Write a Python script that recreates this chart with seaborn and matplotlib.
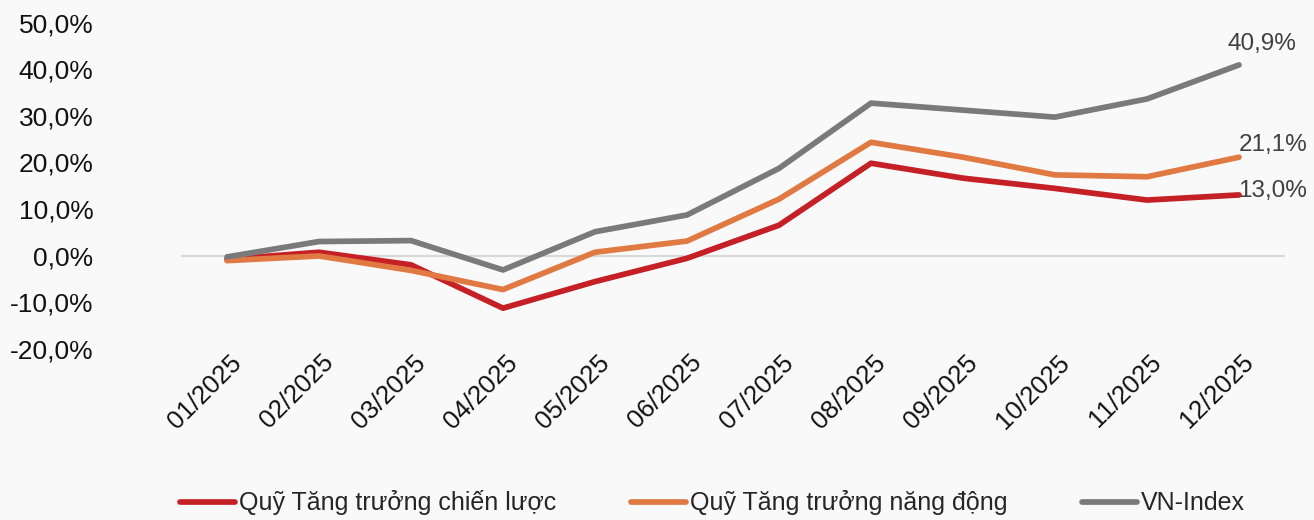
import seaborn as sns
import matplotlib.pyplot as plt
import matplotlib.transforms as mtransforms
from matplotlib.lines import Line2D
import pandas as pd

months = ["01/2025", "02/2025", "03/2025", "04/2025", "05/2025", "06/2025",
          "07/2025", "08/2025", "09/2025", "10/2025", "11/2025", "12/2025"]
chien_luoc = [-0.8, 0.7, -2.0, -11.3, -5.6, -0.6, 6.5, 19.8, 16.6, 14.4, 11.9, 13.0]
nang_dong = [-1.1, -0.1, -3.2, -7.3, 0.7, 3.1, 12.1, 24.3, 21.1, 17.3, 16.9, 21.1]
vn_index = [-0.3, 3.0, 3.2, -3.1, 5.1, 8.7, 18.7, 32.7, 31.2, 29.7, 33.6, 40.9]
series_names = ["Quỹ Tăng trưởng chiến lược", "Quỹ Tăng trưởng năng động", "VN-Index"]
colors = ["#C42026", "#E07A42", "#7A7A7A"]

df = pd.DataFrame({
    "month": months * 3,
    "value": chien_luoc + nang_dong + vn_index,
    "series": [n for n in series_names for _ in months],
})

sns.set_theme(style="white")
plt.rcParams["font.family"] = ["Liberation Sans", "DejaVu Sans"]
bg = "#F9F9F9"

fig = plt.figure(figsize=(13.14, 5.2), dpi=100, facecolor=bg)
ax = fig.add_axes([181 / 1314, 0.3294, 1104 / 1314, 0.6273], facecolor=bg)

ax.axhline(0, color="#D9D9D9", lw=1.5, zorder=1)
sns.lineplot(data=df, x="month", y="value", hue="series", palette=colors,
             hue_order=series_names, sort=False, lw=4.1, legend=False, ax=ax,
             solid_capstyle="round", zorder=3)

ax.set_xlim(-0.5, 11.5)
ax.set_ylim(-20, 50)
ax.set_yticks(range(-20, 51, 10))
ax.set_yticklabels([f"{v:.1f}%".replace(".", ",") for v in range(-20, 51, 10)])
ax.set_xlabel("")
ax.set_ylabel("")
for s in ax.spines.values():
    s.set_visible(False)
ax.tick_params(axis="y", length=0, pad=63, labelsize=19, labelcolor="#111111")
ax.tick_params(axis="x", length=0, pad=0, labelsize=18.5, labelcolor="#111111")
ax.set_xticks(range(len(months)))
ax.set_xticklabels(months, rotation=45, ha="right", rotation_mode="anchor", va="center")
shift = mtransforms.ScaledTranslation(0.11, -0.10, fig.dpi_scale_trans)
for lbl in ax.get_xticklabels():
    lbl.set_transform(lbl.get_transform() + shift)

# end-of-line labels
last = len(months) - 1
offsets = [(-0.7, 2.6), (0, 9), (-8.6, 15.3)]
for vals, off in zip([chien_luoc, nang_dong, vn_index], offsets):
    ax.annotate(f"{vals[-1]:.1f}%".replace(".", ","), xy=(last, vals[-1]),
                xytext=off, textcoords="offset points", ha="left", va="center",
                fontsize=17.5, color="#404040")

handles = [Line2D([], [], color=c, lw=4.1, solid_capstyle="round") for c in colors]
fig.legend(handles, series_names, loc="center left", bbox_to_anchor=(180 / 1314, 0.033),
           ncol=3, frameon=False, fontsize=18, handlelength=2.2, handletextpad=0.15,
           columnspacing=3.0, borderpad=0, borderaxespad=0)

fig.savefig("out.png", dpi=100, facecolor=bg)
